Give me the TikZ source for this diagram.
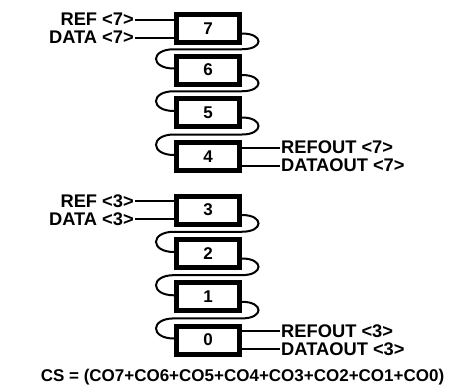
\documentclass[tikz,border=0pt]{standalone}
\usepackage{fontspec}
\setmainfont{Liberation Sans}
\usetikzlibrary{calc}
\begin{document}
\begin{tikzpicture}[x=1pt,y=-1pt,
  blk/.style={draw,line width=5pt,minimum width=63pt,minimum height=28pt,inner sep=0pt,font=\fontsize{17}{19}\selectfont\bfseries},
  lbl/.style={font=\fontsize{18.3}{20}\selectfont\bfseries,inner sep=1pt},
  wire/.style={line width=2pt}]
\useasboundingbox (0,0) rectangle (449,391);
\node[blk] (b7) at (208,28.5) {7};
\node[blk] (b6) at (208,70) {6};
\node[blk] (b5) at (208,112.5) {5};
\node[blk] (b4) at (208,156.5) {4};
\node[blk] (b3) at (208,210) {3};
\node[blk] (b2) at (208,253.5) {2};
\node[blk] (b1) at (208,296.8) {1};
\node[blk] (b0) at (208,340) {0};
\foreach \a/\b in {7/6,6/5,5/4,3/2,2/1,1/0}{
  \coordinate (m\a) at ($(b\a.south)!0.5!(b\b.north)$);
  \draw[wire] ($(b\a.east)+(0,5)$) .. controls +(22,0) and +(22,0) .. (b\a.east |- m\a)
    -- (b\b.west |- m\a) .. controls +(-24,0) and +(-24,0) .. ($(b\b.west)+(0,-1.5)$);
}
\node[lbl,anchor=east] (r7) at (135,19.5) {REF <7>};
\node[lbl,anchor=east] (d7) at (135,37.5) {DATA <7>};
\draw[wire] (r7.east) -- (b7.west |- r7.east);
\draw[wire] (d7.east) -- (b7.west |- d7.east);
\node[lbl,anchor=west] (ro7) at (280,147.5) {REFOUT <7>};
\node[lbl,anchor=west] (do7) at (280,165.5) {DATAOUT <7>};
\draw[wire] (b4.east |- ro7.west) -- (ro7.west);
\draw[wire] (b4.east |- do7.west) -- (do7.west);
\node[lbl,anchor=east] (r3) at (135,201) {REF <3>};
\node[lbl,anchor=east] (d3) at (135,219) {DATA <3>};
\draw[wire] (r3.east) -- (b3.west |- r3.east);
\draw[wire] (d3.east) -- (b3.west |- d3.east);
\node[lbl,anchor=west] (ro3) at (280,331) {REFOUT <3>};
\node[lbl,anchor=west] (do3) at (280,349) {DATAOUT <3>};
\draw[wire] (b0.east |- ro3.west) -- (ro3.west);
\draw[wire] (b0.east |- do3.west) -- (do3.west);
\node[font=\fontsize{17}{20}\selectfont\bfseries,inner sep=0pt] (cs) at (242.5,377.5) {CS = (CO7+CO6+CO5+CO4+CO3+CO2+CO1+CO0)};
\end{tikzpicture}
\end{document}
